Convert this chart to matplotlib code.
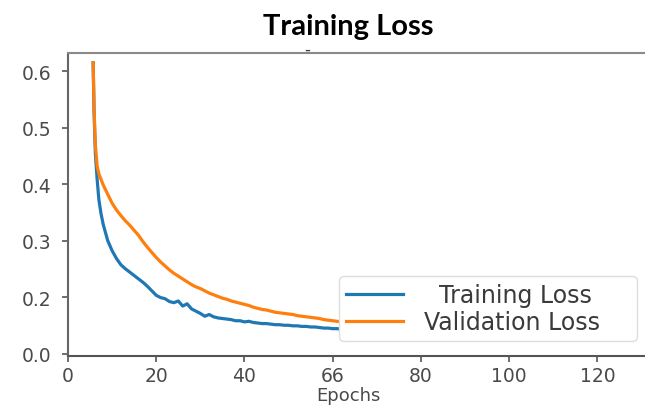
import matplotlib
matplotlib.use("Agg")
import matplotlib.pyplot as plt

# ---- data ----
epochs = [5.7, 5.9, 6.2, 6.6, 7.0, 7.5, 8, 9, 10, 11, 12, 13, 14, 15, 16,
          17, 18, 19, 20, 21, 22, 23, 24, 25, 26, 27, 28, 29, 30, 31, 32, 33,
          34, 35, 36, 37, 38, 39, 40, 41, 42, 43, 44, 45, 46, 47, 48, 49, 50,
          51, 52, 53, 54, 55, 56, 57, 58, 59, 60, 61, 62]
training_loss = [
    0.615, 0.530, 0.455, 0.409, 0.372, 0.347, 0.328, 0.300, 0.282, 0.268,
    0.257, 0.250, 0.244, 0.238, 0.232, 0.226, 0.219, 0.211, 0.203, 0.199,
    0.197, 0.192, 0.190, 0.193, 0.184, 0.188, 0.179, 0.175, 0.171, 0.166,
    0.169, 0.165, 0.163, 0.162, 0.161, 0.160, 0.158, 0.158, 0.156, 0.157,
    0.155, 0.154, 0.153, 0.153, 0.152, 0.151, 0.151, 0.150, 0.150, 0.149,
    0.149, 0.148, 0.148, 0.147, 0.147, 0.146, 0.145, 0.145, 0.144, 0.144,
    0.143,
]
validation_loss = [
    0.615, 0.535, 0.470, 0.432, 0.418, 0.408, 0.398, 0.382, 0.366, 0.354,
    0.344, 0.335, 0.327, 0.318, 0.309, 0.298, 0.288, 0.279, 0.270, 0.262,
    0.255, 0.248, 0.242, 0.237, 0.232, 0.227, 0.222, 0.218, 0.215, 0.211,
    0.207, 0.204, 0.201, 0.198, 0.196, 0.193, 0.191, 0.189, 0.187, 0.185,
    0.182, 0.180, 0.178, 0.177, 0.175, 0.173, 0.172, 0.171, 0.170, 0.169,
    0.167, 0.166, 0.165, 0.164, 0.163, 0.162, 0.160, 0.159, 0.158, 0.157,
    0.156,
]
series_labels = ["  Training Loss    ", "Validation Loss    "]
title_text = "Training Loss"
xlabel_text = "Epochs"
xtick_values = [0, 20, 40, 60, 80, 100, 120]
xtick_labels = ["0", "20", "40", "66", "80", "100", "120"]
ytick_values = [0.1, 0.2, 0.3, 0.4, 0.5, 0.6]
ytick_labels = ["0.0", "0.2", "0.3", "0.4", "0.5", "0.6"]

# ---- figure ----
W, H = 645, 406
fig = plt.figure(figsize=(W / 100, H / 100), dpi=100)
fig.patch.set_facecolor("white")
left, right, top, bottom = 68, 645, 54, 357
ax = fig.add_axes([left / W, 1 - bottom / H, (right - left) / W, (bottom - top) / H])

ax.plot(epochs, training_loss, color="#1f77b4", lw=2.3, label=series_labels[0],
        solid_joinstyle="round")
ax.plot(epochs, validation_loss, color="#ff7f0e", lw=2.3, label=series_labels[1],
        solid_joinstyle="round")

ax.set_xlim(0, 130.8)
ax.set_ylim(0.0956, 0.632)
ax.set_xticks(xtick_values)
ax.set_xticklabels(xtick_labels)
ax.set_yticks(ytick_values)
ax.set_yticklabels(ytick_labels)

tick_color = "#555555"
ax.tick_params(axis="both", direction="out", length=4, width=1.2,
               colors=tick_color, labelsize=13.5)
ax.tick_params(axis="y", pad=8)
ax.tick_params(axis="x", pad=3)
for t in ax.get_xticklabels() + ax.get_yticklabels():
    t.set_color("#4a4a4a")

ax.spines["right"].set_visible(False)
ax.spines["left"].set_color("#666666")
ax.spines["bottom"].set_color("#555555")
ax.spines["top"].set_color("#8a8a8a")
for s in ("left", "bottom", "top"):
    ax.spines[s].set_linewidth(1.5)

ax.set_xlabel(xlabel_text, fontsize=13, color="#4a4a4a")
ax.xaxis.set_label_coords((348 - left) / (right - left), -(387 - bottom) / (bottom - top))

leg = ax.legend(loc="lower right", bbox_to_anchor=(0.986, 0.05),
                borderaxespad=0, fontsize=17, handlelength=2.4,
                handletextpad=0.9, labelspacing=0.12, borderpad=0.3,
                frameon=True, fancybox=True, framealpha=1.0,
                edgecolor="#dddddd")
for t in leg.get_texts():
    t.set_color("#3a3a3a")
for line in leg.get_lines():
    line.set_linewidth(2.3)

fig.text(348 / W, 1 - 35 / H, title_text, ha="center", va="baseline",
         fontsize=21, fontweight="bold", family=["Lato", "DejaVu Sans"],
         color="black")
fig.text(307 / W, 1 - 50 / H, "-", ha="center", va="center",
         fontsize=12, color="#444444")

fig.savefig("out.png", dpi=100, facecolor="white")
